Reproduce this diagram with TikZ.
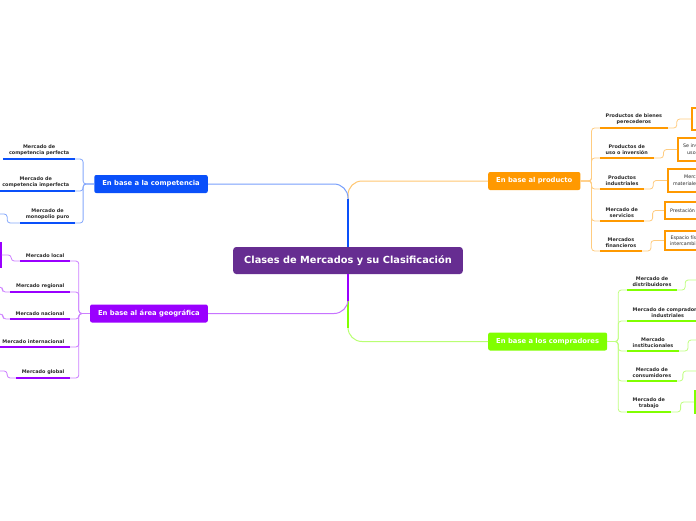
\documentclass[tikz,border=0pt]{standalone}
\usepackage{fontspec}
\setmainfont{DejaVu Sans}
\usetikzlibrary{positioning,calc}
\definecolor{MCPurple}{HTML}{662D91}
\definecolor{MCBlue}{HTML}{0A50FA}
\definecolor{MCViolet}{HTML}{9A00FF}
\definecolor{MCOrange}{HTML}{FF9900}
\definecolor{MCGreen}{HTML}{80FF00}
\definecolor{MCText}{HTML}{2B2B2B}

\begin{document}
\begin{tikzpicture}[x=1pt,y=-1pt,
  root/.style={fill=MCPurple,text=white,rounded corners=3pt,font=\bfseries\fontsize{9.8}{11}\selectfont,minimum height=27pt,inner xsep=11pt},
  branch/.style={fill=#1,text=white,rounded corners=2pt,font=\bfseries\fontsize{6.8}{8}\selectfont,minimum height=18pt,inner xsep=8pt},
  leaf/.style={text=MCText,font=\bfseries\fontsize{4.9}{6.3}\selectfont,align=center,inner xsep=5.5pt,inner ysep=3pt},
  detail/.style={draw=#1,line width=2.2pt,fill=white,text=MCText,font=\fontsize{4.8}{6.6}\selectfont,align=center,inner xsep=5pt},
  limb/.style={#1!55,line width=1pt,rounded corners=14pt},
  trunk/.style={#1,line width=2pt},
  twig/.style={#1!50,line width=0.8pt,rounded corners=3pt},
  mark line/.style={#1,line width=2.6pt}]
  \useasboundingbox (0,0) rectangle (696,520);
  \fill[white] (0,0) rectangle (696,520);
  \clip (0,0) rectangle (696,520);

  % centre and main branches
  \node[root] (root) at (348,260.5) {Clases de Mercados y su Clasificación};
  \node[branch=MCBlue,anchor=east] (comp) at (208,184) {En base a la competencia};
  \node[branch=MCViolet,anchor=east] (area) at (208,313.5) {En base al área geográfica};
  \node[branch=MCOrange,anchor=west] (prod) at (488,181) {En base al producto};
  \node[branch=MCGreen,anchor=west] (buy) at (488,341.5) {En base a los compradores};

  % competencia
  \node[leaf,anchor=south east] (cpA) at (75,159) {Mercado de\\competencia perfecta};
  \node[leaf,anchor=south east] (cpB) at (75,191) {Mercado de\\competencia imperfecta};
  \node[leaf,anchor=south east] (cpC) at (75,223) {Mercado de\\monopolio puro};

  % area geografica
  \node[leaf,anchor=south east] (arA) at (70,261) {Mercado local};
  \node[leaf,anchor=south east] (arB) at (70,292) {Mercado regional};
  \node[leaf,anchor=south east] (arC) at (70,319) {Mercado nacional};
  \node[leaf,anchor=south east] (arD) at (70,347) {Mercado internacional};
  \node[leaf,anchor=south east] (arE) at (70,378) {Mercado global};
  \node[detail=MCViolet,minimum height=23pt,minimum width=40pt,anchor=east] (arBox) at (1.5,255) {};

  % producto
  \node[leaf,anchor=south west] (ppA) at (600,128) {Productos de bienes\\perecederos};
  \node[leaf,anchor=south west] (ppB) at (600,158) {Productos de\\uso o inversión};
  \node[leaf,anchor=south west] (ppC) at (600,189) {Productos\\industriales};
  \node[leaf,anchor=south west] (ppD) at (600,221) {Mercado de\\servicios};
  \node[leaf,anchor=south west] (ppE) at (600,251) {Mercados\\financieros};
  \node[detail=MCOrange,minimum height=22pt,minimum width=40pt,anchor=west] (pbA) at (691,119) {};
  \node[detail=MCOrange,minimum height=23pt,anchor=west] (pbB) at (677,149.5) {Se invierte para su\\uso prolongado};
  \node[detail=MCOrange,minimum height=23pt,anchor=west] (pbC) at (667,180.5) {Mercado de\\materiales y equipos};
  \node[detail=MCOrange,minimum height=17pt,anchor=west] (pbD) at (664,210.5) {Prestación de servicios};
  \node[detail=MCOrange,minimum height=19pt,anchor=west] (pbE) at (664,240.5) {Espacio físico o virtual\\intercambio de activos};

  % compradores
  \node[leaf,anchor=south west] (byA) at (627,290) {Mercado de\\distribuidores};
  \node[leaf,anchor=south west] (byB) at (627,321) {Mercado de compradores\\industriales};
  \node[leaf,anchor=south west] (byC) at (627,351) {Mercado\\institucionales};
  \node[leaf,anchor=south west] (byD) at (627,381) {Mercado de\\consumidores};
  \node[leaf,anchor=south west] (byE) at (627,412) {Mercado de\\trabajo};
  \node[detail=MCGreen,minimum height=21pt,minimum width=40pt,anchor=west] (byBox) at (694,402) {};

  % free ends at the frame
  \coordinate (cpCout) at (0,214);
  \coordinate (arBout) at (0,287);
  \coordinate (arCout) at (0,314);
  \coordinate (arEout) at (0,371);
  \coordinate (byAout) at (696,280);
  \coordinate (byCout) at (696,340);
  \coordinate (byDout) at (696,371);

  % links from the centre
  \draw[limb=MCOrange] (root.north) |- (prod.west);
  \draw[limb=MCBlue] (root.north) |- (comp.east);
  \draw[trunk=MCBlue] (root.north) -- ++(0,-48);
  \draw[limb=MCGreen] (root.south) |- (buy.west);
  \draw[trunk=MCGreen] (root.south) -- ++(0,54);
  \draw[limb=MCViolet] (root.south) |- (area.east);
  \draw[trunk=MCViolet] (root.south) -- ++(0,27);

  % links to the leaves
  \foreach \n in {cpA,cpB,cpC}
    \draw[twig=MCBlue] (comp.west) -- ++(-11,0) |- (\n.south east);
  \foreach \n in {arA,arB,arC,arD,arE}
    \draw[twig=MCViolet] (area.west) -- ++(-11,0) |- (\n.south east);
  \foreach \n in {ppA,ppB,ppC,ppD,ppE}
    \draw[twig=MCOrange] (prod.east) -- ++(11,0) |- (\n.south west);
  \foreach \n in {byA,byB,byC,byD,byE}
    \draw[twig=MCGreen] (buy.east) -- ++(11,0) |- (\n.south west);

  % outer links
  \draw[twig=MCBlue] (cpC.south west) -- ++(-13,0) |- (cpCout);
  \draw[twig=MCViolet] (arA.south west) -- ++(-9,0) |- (arBox.east);
  \draw[twig=MCViolet] (arB.south west) -- ++(-8,0) |- (arBout);
  \draw[twig=MCViolet] (arC.south west) -- ++(-7,0) |- (arCout);
  \draw[twig=MCViolet] (arE.south west) -- ++(-9,0) |- (arEout);
  \draw[twig=MCOrange] (ppA.south east) -- ++(9,0) |- (pbA.west);
  \draw[twig=MCOrange] (ppB.south east) -- ++(10,0) |- (pbB.west);
  \draw[twig=MCOrange] (ppC.south east) -- ++(9,0) |- (pbC.west);
  \draw[twig=MCOrange] (ppD.south east) -- ++(9,0) |- (pbD.west);
  \draw[twig=MCOrange] (ppE.south east) -- ++(9,0) |- (pbE.west);
  \draw[twig=MCGreen] (byA.south east) -- ++(8,0) |- (byAout);
  \draw[twig=MCGreen] (byC.south east) -- ++(9,0) |- (byCout);
  \draw[twig=MCGreen] (byD.south east) -- ++(6,0) |- (byDout);
  \draw[twig=MCGreen] (byE.south east) -- ++(10,0) |- (byBox.west);

  % underlines
  \foreach \n in {cpA,cpB,cpC}
    \draw[mark line=MCBlue] (\n.south west) -- (\n.south east);
  \foreach \n in {arA,arB,arC,arD,arE}
    \draw[mark line=MCViolet] (\n.south west) -- (\n.south east);
  \foreach \n in {ppA,ppB,ppC,ppD,ppE}
    \draw[mark line=MCOrange] (\n.south west) -- (\n.south east);
  \foreach \n in {byA,byB,byC,byD,byE}
    \draw[mark line=MCGreen] (\n.south west) -- (\n.south east);
\end{tikzpicture}
\end{document}
